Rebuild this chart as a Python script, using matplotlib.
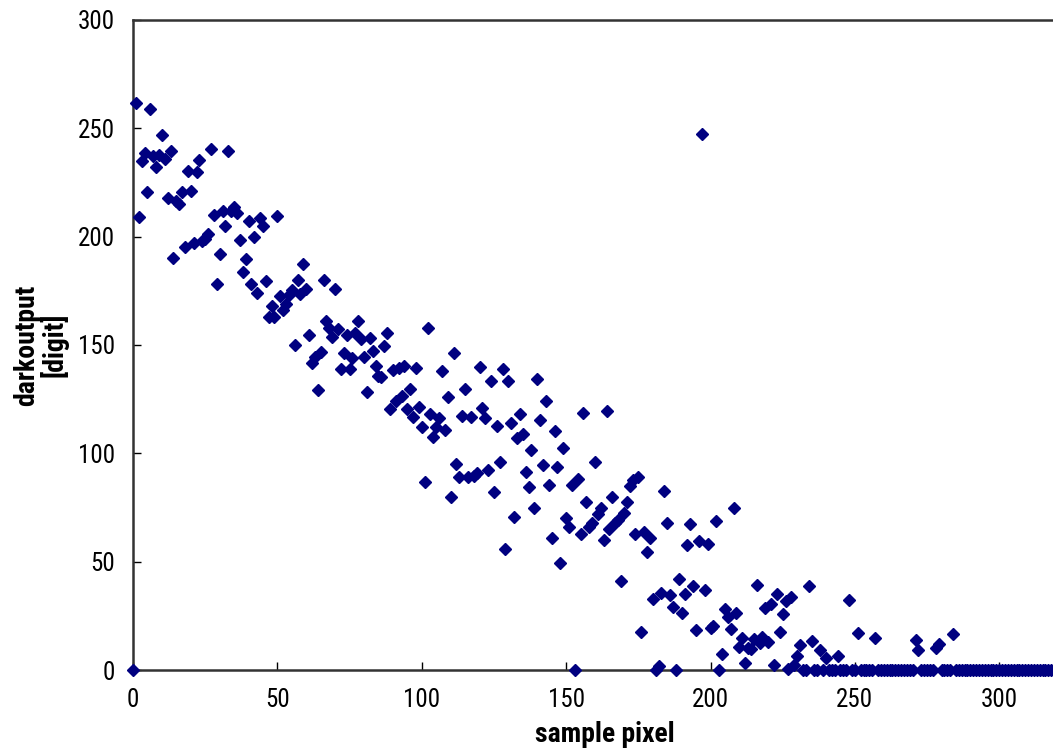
import matplotlib
matplotlib.use('Agg')
import matplotlib.pyplot as plt
import numpy as np

# dark output per sample pixel (index = sample pixel 0..319)
dark_0_49 = [0, 261.5, 209, 235, 238.5, 220.4, 259, 237, 232, 237.5,
             247, 235.7, 218, 239.5, 190.3, 216.5, 215, 220.6, 195, 230.5,
             221, 197, 230, 235.5, 198, 199, 201, 240.6, 209.8, 178,
             192, 211.7, 205, 239.5, 212, 213.5, 210.8, 198.3, 183.5, 189.5,
             207.2, 178, 199.7, 174, 208.5, 205, 179.7, 162.7, 168, 162.9]
dark_50_99 = [209.5, 172.8, 166, 169, 173, 175.4, 149.8, 179.8, 173.5, 187.4,
              176, 154.6, 141.7, 144.6, 129, 146.6, 180, 161.3, 157.7, 153.5,
              176, 157.3, 138.8, 146.5, 154.6, 139, 144.2, 155.4, 161, 152.6,
              144.6, 128.3, 153, 147.4, 140.3, 135.5, 135, 149.5, 155.4, 120.3,
              138.5, 124, 139.2, 126.5, 140.3, 120.3, 129.5, 116.6, 139.6, 121.2]
dark_100_149 = [112.2, 87, 157.7, 118.2, 107.7, 112, 116.2, 138, 110.8, 126.2,
                80, 146.2, 95, 89.3, 117.2, 129.5, 89.3, 117, 89.5, 90.8,
                139.7, 120.8, 116.2, 92.3, 133.3, 82, 112.6, 96.2, 138.8, 55.8,
                133.4, 113.8, 70.8, 107, 118, 109, 91.2, 84.3, 101.7, 75,
                134.2, 115.4, 94.6, 124, 85.6, 61, 110.5, 93.7, 49.5, 102.3]
dark_150_199 = [70, 66.2, 85.5, 0, 88, 63, 118.5, 77.4, 66.2, 67.7,
                96.2, 72.2, 75, 60.2, 119.7, 65, 79.7, 68, 69.2, 41,
                72.6, 77.7, 85, 87.7, 63, 89, 17.5, 63.8, 54.5, 61.1,
                32.8, 0, 2, 35.5, 82.4, 68, 34.6, 29.2, 0, 41.9,
                26.5, 35, 57.8, 67.4, 38.8, 18.3, 59.4, 247.4, 37, 58.3]
dark_200_249 = [19.5, 20.5, 68.8, 0, 7.4, 28, 24.6, 19.1, 74.8, 26.5,
                10.6, 14.8, 3.4, 10, 9.5, 14.2, 39.2, 12.3, 15.1, 28.8,
                12.9, 30.3, 2.2, 35, 17.5, 26, 31.8, 0.3, 33.5, 2.5,
                6.5, 11.5, 0, 0, 38.8, 13.2, 0, 0, 9.2, 0,
                5.4, 0, 0, 0, 6.3, 0, 0, 0, 32.3, 0]
dark_250_319 = [0, 17, 0, 0, 0, 0, 0, 14.8, 0, 0,
                0, 0, 0, 0, 0, 0, 0, 0, 0, 0,
                0, 13.8, 9.1, 0, 0, 0, 0, 0, 10, 11.8,
                0, 0, 0, 0, 16.6, 0, 0, 0, 0, 0,
                0, 0, 0, 0, 0, 0, 0, 0, 0, 0,
                0, 0, 0, 0, 0, 0, 0, 0, 0, 0,
                0, 0, 0, 0, 0, 0, 0, 0, 0, 0]

dark = dark_0_49 + dark_50_99 + dark_100_149 + dark_150_199 + dark_200_249 + dark_250_319
pixel = np.arange(len(dark))

x_ticks = [0, 50, 100, 150, 200, 250, 300]
y_ticks = [0, 50, 100, 150, 200, 250, 300]

plt.rcParams['font.family'] = ['Roboto Condensed', 'Liberation Sans', 'DejaVu Sans']

W, H = 1053, 754
fig = plt.figure(figsize=(W / 100, H / 100), dpi=100)
left, right, bottom, top = 133, 1057, 670, 20
ax = fig.add_axes([left / W, 1 - bottom / H, (right - left) / W, (bottom - top) / H])

ax.plot(pixel, dark, linestyle='none', marker='D', markersize=6,
        color='#000080', markeredgecolor='#000080', clip_on=False, zorder=3)

ax.set_xlim(0, 320)
ax.set_ylim(0, 300)
ax.set_xticks(x_ticks)
ax.set_yticks(y_ticks)
ax.tick_params(direction='in', length=6, width=1, labelsize=18, pad=13)
for side in ['left', 'bottom', 'top']:
    ax.spines[side].set_linewidth(1.8)
    ax.spines[side].set_color('#333333')
ax.spines['right'].set_visible(False)

fig.text(605 / W, 1 - 734 / H, 'sample pixel', ha='center', va='center',
         fontsize=20, fontweight='bold')
fig.text(41 / W, 1 - 345 / H, 'darkoutput\n[digit]', ha='center', va='center',
         rotation=90, fontsize=20, fontweight='bold', multialignment='center',
         linespacing=1.0)

fig.savefig('out.png', dpi=100)
plt.close(fig)
